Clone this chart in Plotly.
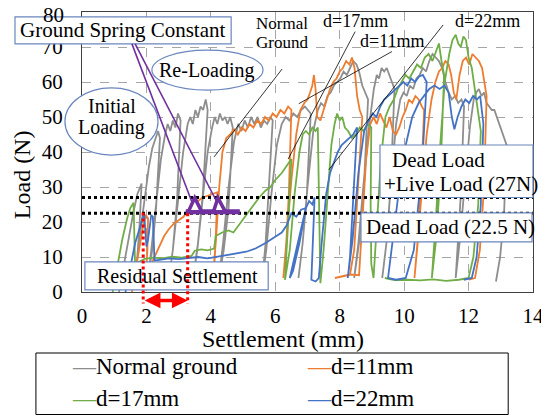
import plotly.graph_objects as go

# ---------------- data ----------------
normal_x = [1.15, 1.3, 1.45, 1.6, 1.72, 1.85,
            1.78, 1.7, 1.62,
            1.72, 1.85, 1.98, 2.08, 2.18, 2.28, 2.36, 2.42,
            2.3, 2.18, 2.05,
            2.15, 2.3, 2.45, 2.58, 2.66, 2.74, 2.82, 2.9, 2.98, 3.06,
            2.95, 2.82, 2.7,
            2.82, 2.98, 3.14, 3.28, 3.36, 3.44, 3.52, 3.6, 3.68, 3.76, 3.84, 3.9,
            3.75, 3.6, 3.45,
            3.58, 3.74, 3.9, 4.04, 4.12, 4.2, 4.28, 4.36, 4.44, 4.52, 4.6, 4.68,
            4.55, 4.4, 4.25,
            4.38, 4.55, 4.72, 4.85, 4.95, 5.05, 5.15, 5.25, 5.35, 5.45, 5.55, 5.65, 5.75, 5.85, 5.92,
            5.8, 5.7, 5.6,
            5.72, 5.88, 6.05, 6.2, 6.32, 6.44, 6.56, 6.68, 6.8, 6.92, 7.02, 7.1,
            6.98, 6.85, 6.72,
            6.85, 7.0, 7.18, 7.32, 7.42, 7.52, 7.62, 7.72, 7.82, 7.92, 8.02, 8.12, 8.22, 8.32, 8.42,
            8.52, 8.6, 8.7, 8.8, 8.88,
            8.75, 8.6, 8.45,
            8.58, 8.75, 8.92, 9.06, 9.15, 9.22, 9.3, 9.38, 9.46, 9.54, 9.62, 9.7,
            9.58, 9.45, 9.32,
            9.45, 9.6, 9.75, 9.88, 9.98, 10.08, 10.18, 10.28, 10.38, 10.48, 10.58, 10.68, 10.78, 10.88,
            10.98, 11.08, 11.18, 11.28, 11.38, 11.48, 11.58, 11.68, 11.78, 11.86,
            11.76, 11.68, 11.6,
            11.72, 11.88, 12.04, 12.16, 12.24, 12.32, 12.4, 12.48, 12.56, 12.64, 12.72, 12.8, 12.88,
            12.96, 13.04, 13.12, 13.18,
            13.1, 12.98, 12.85]
normal_y = [0, 8, 16, 23, 28, 31,
            18, 8, 4,
            10, 20, 30, 36, 41, 44, 46, 44,
            24, 12, 4,
            12, 26, 38, 45, 48, 46, 49, 47, 51, 49,
            26, 12, 4,
            12, 26, 40, 48, 50, 48, 52, 50, 53, 52, 55, 52,
            28, 14, 4,
            12, 26, 40, 47, 50, 48, 51, 49, 50, 48, 50, 47,
            24, 12, 4,
            14, 30, 43, 48, 46, 49, 47, 50, 48, 50, 47, 49, 48, 50, 49,
            28, 14, 4,
            12, 28, 42, 48, 50, 49, 51, 50, 52, 53, 52, 51,
            28, 14, 4,
            14, 30, 46, 52, 54, 53, 56, 57, 59, 60, 61, 63, 62, 64, 66,
            65, 63, 59, 57, 55,
            30, 14, 4,
            14, 32, 48, 58, 62, 61, 64, 63, 64, 62, 60, 58,
            30, 14, 4,
            14, 32, 48, 55, 57, 56, 59, 58, 61, 62, 64, 63, 66, 68,
            67, 66, 64, 60, 57, 55, 56, 54, 55, 53,
            28, 14, 4,
            14, 30, 47, 55, 57, 58, 56, 57, 54, 53, 52, 52, 50,
            48, 46, 44, 42,
            22, 10, 3]

d11_x = [1.55, 1.68, 1.8, 1.9, 1.98, 2.05,
         2.03, 2.0, 1.98,
         2.1, 2.25, 2.4, 2.55, 2.7, 2.85, 3.0, 3.15, 3.3, 3.45, 3.6, 3.75, 3.9, 4.05, 4.2,
         4.15, 4.1, 4.06,
         4.16, 4.26, 4.36, 4.48, 4.6, 4.72, 4.84, 4.96, 5.08, 5.2, 5.32, 5.44, 5.56, 5.68, 5.8,
         5.92, 6.04, 6.16, 6.28, 6.4, 6.5,
         6.42, 6.33, 6.25,
         6.35, 6.5, 6.65, 6.78, 6.9, 7.0, 7.08, 7.15, 7.2, 7.25, 7.3, 7.4, 7.5, 7.6, 7.7, 7.8,
         7.9, 8.0, 8.1, 8.2, 8.3, 8.38, 8.46, 8.54, 8.62, 8.7,
         8.58, 8.45, 8.32,
         8.1, 7.85, 8.1, 8.35, 8.6,
         8.7, 8.82, 8.95, 9.05, 9.15, 9.25, 9.35, 9.45, 9.55, 9.65, 9.75, 9.85, 9.95, 10.05,
         10.15, 10.25, 10.35, 10.45, 10.55, 10.62,
         10.52, 10.42, 10.32,
         10.42, 10.55, 10.7, 10.85, 10.97, 11.08, 11.18, 11.28, 11.38, 11.46, 11.54, 11.62,
         11.72, 11.82, 11.92, 12.02, 12.12, 12.22, 12.32, 12.42, 12.5, 12.56,
         12.48, 12.35, 12.2, 12.0]
d11_y = [0, 7, 14, 19, 22, 21,
         12, 6, 4,
         7, 10, 13, 16, 18, 19.5, 20.5, 21.5, 23.5, 25, 26, 27, 27.5, 28, 28.5,
         15, 6, 4,
         15, 30, 40, 44, 45, 46.5, 45, 47, 46, 48, 47, 49, 48, 50, 49,
         51, 50, 52, 51, 53, 52,
         28, 12, 4,
         16, 32, 45, 52, 54, 55, 57, 59, 62, 58, 50, 49, 52, 55, 58, 60,
         61, 63, 64, 66, 65, 67, 64, 56, 52, 50,
         30, 12, 5,
         4.5, 4, 4.5, 5, 4.8,
         20, 38, 48, 50, 48, 51, 49, 47, 50, 46, 45, 47, 50, 52,
         55, 54, 56, 55, 53, 52,
         30, 14, 4,
         15, 30, 45, 55, 60, 63, 64, 66, 65, 62, 57, 55,
         62, 66, 67, 65, 68, 67, 66, 64, 60, 56,
         30, 12, 4, 3.5]

d17_x = [0.95, 1.1, 1.25, 1.4, 1.5, 1.6,
         1.62, 1.65, 1.75, 1.95, 2.2, 2.5, 2.8, 3.1, 3.4, 3.5, 3.7, 3.9, 4.1, 4.15, 4.35, 4.55,
         4.7, 4.9, 5.1, 5.3, 5.5, 5.7, 5.85, 6.0, 6.2, 6.35, 6.5,
         6.4, 6.32, 6.3,
         6.45, 6.6, 6.75, 6.85, 6.95, 7.05, 7.15, 7.25, 7.32,
         7.36, 7.38, 7.4,
         7.5, 7.62, 7.74, 7.84, 7.92, 8.0, 8.08, 8.16, 8.26, 8.38, 8.5, 8.62, 8.74, 8.86, 8.98,
         8.96, 8.98, 9.05,
         9.15, 9.28, 9.42, 9.55, 9.68, 9.8, 9.92, 10.04, 10.16, 10.28, 10.4, 10.52, 10.64, 10.76,
         10.88, 11.0, 11.08, 11.16, 11.24,
         11.12, 10.98, 10.86,
         10.98, 11.12, 11.26, 11.4, 11.5, 11.6, 11.68, 11.76, 11.84, 11.92, 12.0, 12.1, 12.2,
         12.3, 12.38,
         12.3, 12.15, 12.0, 11.7, 11.3, 10.9, 10.5, 10.1, 9.7, 9.4]
d17_y = [0, 8, 15, 21, 24, 25.5,
         16, 7, 8.5, 9.5, 9.8, 9.6, 10.1, 9.8, 10.3, 11.8, 12.2, 11.9, 12.4, 16, 17, 17.6,
         17, 19.5, 22, 24.5, 27, 29, 30, 32, 34, 36, 38,
         20, 8, 3.5,
         12, 28, 40, 45, 46, 45, 47, 46, 47,
         25, 10, 2.5,
         12, 28, 42, 48, 51, 49, 50, 47, 46, 44, 45, 47, 46, 48, 47,
         25, 8, 4,
         20, 38, 50, 53, 55, 58, 60, 62, 61, 63, 65, 64, 67, 68,
         66, 69, 71, 66, 62,
         32, 14, 4,
         20, 42, 60, 68, 72, 73.5, 71, 70, 73, 72, 67, 64, 58,
         52, 46,
         25, 10, 4, 3.5, 3.2, 3.6, 3.3, 3.5, 3.4, 4]

d22_x = [1.35, 1.45, 1.55, 1.65, 1.75, 1.85, 1.93,
         1.97, 2.0, 2.05, 2.1, 2.15, 2.2, 2.22, 2.25,
         2.4, 2.7, 3.0, 3.3, 3.6, 3.9, 4.2, 4.5, 4.8, 5.1, 5.4, 5.7, 5.95, 6.2, 6.35, 6.5,
         6.65, 6.8, 6.95,
         6.75, 6.55, 6.45,
         6.6, 6.8, 6.95, 7.05, 7.15, 7.22,
         7.16, 7.12, 7.25, 7.35,
         7.45, 7.58, 7.7, 7.82, 7.94, 8.06, 8.18, 8.3, 8.42, 8.54,
         8.42, 8.32, 8.25,
         8.4, 8.58, 8.76, 8.9, 9.02, 9.14, 9.26, 9.38, 9.5, 9.62, 9.74, 9.86, 9.98, 10.1,
         10.22, 10.34, 10.46, 10.58, 10.7,
         10.55, 10.3, 10.05, 9.75, 9.5,
         9.65, 9.85, 10.05, 10.25, 10.45, 10.62, 10.78, 10.94, 11.1, 11.25, 11.38, 11.48,
         11.56, 11.66, 11.78, 11.9, 12.02, 12.14, 12.26, 12.36, 12.46,
         12.38, 12.25, 12.1, 11.85]
d22_y = [0, 5, 10, 14, 17, 20.5, 22.5,
         17, 13, 15, 19, 22, 21.5, 15, 9,
         9.2, 9.6, 9.4, 9.8, 10, 9.6, 10.1, 10.4, 11, 11.5, 12.5, 14, 15.5, 17, 19, 22.5,
         21.5, 23.5, 24,
         14, 6, 4,
         10, 18, 24, 26, 25, 27,
         14, 3.5, 3, 4,
         15, 28, 34, 37, 40, 42, 43, 44, 45, 47,
         25, 10, 4,
         15, 34, 46, 49, 51, 50, 53, 55, 56, 57, 58, 59, 60, 59,
         61, 60, 61.5, 62, 60,
         35, 12, 4, 3.5, 4,
         15, 30, 42, 50, 54, 56, 58, 59, 58, 59, 57, 50,
         46.5, 50, 53, 55, 54, 56, 55, 56, 48,
         25, 10, 4, 3.5]

series_names = ["Normal ground", "d=11mm", "d=17mm", "d=22mm"]
series_colors = ["#8E8E8E", "#ED7D31", "#70AD47", "#4472C4"]
series_x = [normal_x, d11_x, d17_x, d22_x]
series_y = [normal_y, d11_y, d17_y, d22_y]

dead_load = 22.5
dead_live_load = 27

x_ticks = [0, 2, 4, 6, 8, 10, 12, 14]
y_ticks = [0, 10, 20, 30, 40, 50, 60, 70, 80]

# ---------------- figure ----------------
SERIF = "Liberation Serif, Times New Roman, serif"
XMAX, YMAX = 14, 80
PX_PER_X = 451 / XMAX


def X(v):
    return v / XMAX


def Y(v):
    return v / YMAX


fig = go.Figure()
for name, xs, ys, col in zip(series_names, series_x, series_y, series_colors):
    fig.add_trace(go.Scatter(x=xs, y=ys, mode="lines", name=name, showlegend=False,
                             line=dict(color=col, width=1.8)))

shapes = []
ann = []
EDGE = "#6A86BE"
PURPLE = "#7030A0"


def pline(x0, y0, x1, y1, **kw):
    shapes.append(dict(type="line", xref="paper", yref="paper",
                       x0=X(x0), y0=Y(y0), x1=X(x1), y1=Y(y1), layer="above", line=kw))


def pbox(kind, x0, y0, x1, y1, color=EDGE, width=1.2):
    shapes.append(dict(type=kind, xref="paper", yref="paper", x0=X(x0), y0=Y(y0),
                       x1=X(x1), y1=Y(y1), fillcolor="white", layer="above",
                       line=dict(color=color, width=width)))


def text(t, x, y, size, xanchor="center", angle=0):
    ann.append(dict(text=t, xref="paper", yref="paper", x=X(x), y=Y(y), showarrow=False,
                    xanchor=xanchor, yanchor="middle", textangle=angle,
                    font=dict(family=SERIF, size=size, color="black")))


# dotted load levels
pline(0, dead_live_load, 14, dead_live_load, color="black", width=3, dash="dot")
pline(0, dead_load, 14, dead_load, color="black", width=3, dash="dot")

# leader lines
pline(4.1, 38.6, 6.21, 63.7, color="black", width=0.8)
pline(8.48, 74.4, 6.4, 38.0, color="black", width=0.8)
pline(9.62, 68.7, 6.73, 53.8, color="black", width=0.8)
pline(11.21, 76.3, 7.66, 34.9, color="black", width=0.8)

# ellipses and boxes
pbox("circle", -0.53, 39.1, 2.36, 58.3)
pbox("circle", 2.17, 57.7, 5.62, 69.1)
pbox("rect", -2.08, 70.9, 4.63, 78.6)
pbox("rect", 0.09, 0.6, 5.78, 8.6)
pbox("rect", 9.25, 27.0, 14.0, 42.0)
pbox("rect", 8.66, 14.3, 13.97, 22.6)

# ground spring constant pointers
pline(1.55, 70.9, 3.42, 25.5, color=PURPLE, width=1.6)
pline(1.65, 70.9, 4.2, 25.5, color=PURPLE, width=1.6)
pline(3.22, 22.9, 4.9, 22.9, color=PURPLE, width=5)
for xa, xb, xc in [(3.3, 3.5, 3.72), (4.08, 4.22, 4.45)]:
    shapes.append(dict(type="path", xref="paper", yref="paper", layer="above",
                       path=f"M {X(xa)} {Y(22.9)} L {X(xb)} {Y(26.9)} L {X(xc)} {Y(22.9)} Z",
                       fillcolor="white", line=dict(color=PURPLE, width=3.5)))

# residual settlement
res_x0, res_x1 = 1.9, 3.28
pline(res_x0, 22.7, res_x0, -3.3, color="#FF0000", width=3, dash="dot")
pline(res_x1, 22.5, res_x1, -3.3, color="#FF0000", width=3, dash="dot")
ann.append(dict(xref="paper", yref="paper", x=X(res_x1), y=Y(-2.4),
                ax=-(res_x1 - res_x0) * PX_PER_X, ay=0, axref="pixel", ayref="pixel",
                text="", showarrow=True, arrowhead=2, arrowside="end+start",
                arrowsize=0.9, arrowwidth=3.5, arrowcolor="#FF0000"))

# y = 80 tick is drawn over the "Ground Spring Constant" box in the reference
text(str(y_ticks[-1]), -0.5, 79.0, 21, xanchor="right")

# texts
text("Ground Spring Constant", 1.27, 74.9, 21)
text("Re-Loading", 3.88, 63.4, 20)
text("Initial", 0.93, 53.1, 20)
text("Loading", 0.93, 46.9, 20)
text("Normal", 6.21, 76.6, 17)
text("Ground", 6.21, 71.4, 17)
text("d=17mm", 8.48, 77.3, 18)
text("d=11mm", 9.63, 71.8, 18)
text("d=22mm", 12.58, 77.3, 18)
text("Residual Settlement", 2.95, 4.6, 20)
text("Dead Load", 9.57, 37.6, 21, xanchor="left")
text("+Live Load (27N)", 9.3, 31.0, 21, xanchor="left")
text("Dead Load (22.5 N)", 8.76, 18.6, 21, xanchor="left")
text("Load (N)", -1.86, 33.4, 24, angle=-90)
text("Settlement (mm)", 6.24, -13.4, 24)

# legend (box + coloured dash entries)
pbox("rect", -1.43, -35.0, 13.23, -17.43, color="black", width=1)
legend_pos = [(-0.37, -21.4), (6.92, -21.4), (-0.37, -30.3), (6.92, -30.3)]
for (lx, ly), name, col in zip(legend_pos, series_names, series_colors):
    text(f"<span style='color:{col}'>\u2014</span>{name}", lx, ly, 23, xanchor="left")

axis_common = dict(showgrid=True, gridcolor="#A6A6A6", griddash="dash", gridwidth=1,
                   showline=True, linecolor="#404040", linewidth=1, mirror=True,
                   zeroline=False, ticks="", automargin=False,
                   tickfont=dict(family=SERIF, size=21, color="black"))

# the page body adds an 8px offset, so the figure is 8px smaller on each side
fig.update_layout(
    width=541, height=408, autosize=False,
    margin=dict(l=74, r=16, t=4, b=124, pad=0, autoexpand=False),
    paper_bgcolor="white", plot_bgcolor="white",
    font=dict(family=SERIF, color="black"),
    xaxis=dict(range=[0, XMAX], tickvals=x_ticks, ticklabelstandoff=5, **axis_common),
    yaxis=dict(range=[0, YMAX], tickvals=y_ticks[:-1], ticklabelstandoff=14, **axis_common),
    shapes=shapes, annotations=ann,
    showlegend=False,
)

fig.write_html("out.html", config={"displayModeBar": False})
